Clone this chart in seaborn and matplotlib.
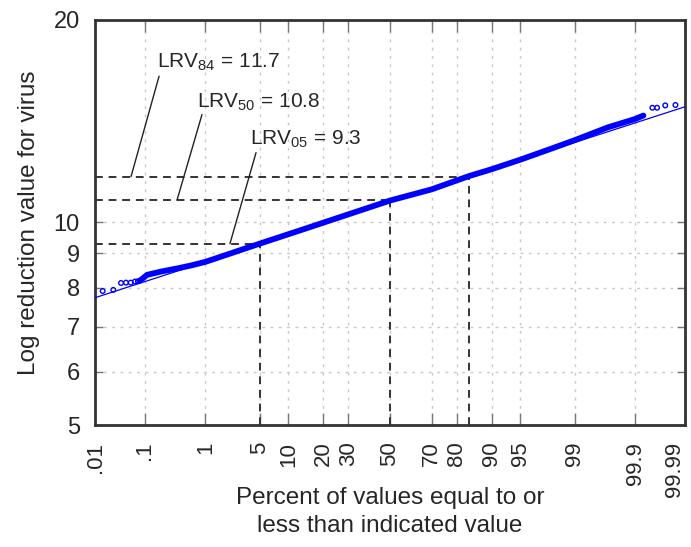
import numpy as np
import pandas as pd
import matplotlib
matplotlib.use("Agg")
import matplotlib.pyplot as plt
import seaborn as sns
from statistics import NormalDist

# --- Data (percent, LRV) ---

# dense band of simulated values
curve_pct = [0.08, 0.11, 0.19, 0.4, 0.6, 1, 5, 13, 50, 70, 84, 90, 95, 98, 99, 99.7, 99.9, 99.93]
curve_lrv = [8.19, 8.36, 8.45, 8.56, 8.63, 8.74, 9.3, 9.74, 10.78, 11.2, 11.72, 12.0, 12.4, 12.9, 13.25, 13.85, 14.25, 14.42]

# isolated points in the tails
tail_pct = [0.0146, 0.0243, 0.0348, 0.0437, 0.054, 0.065, 0.074, 99.953, 99.962, 99.974, 99.984]
tail_lrv = [7.91, 7.94, 8.13, 8.14, 8.14, 8.17, 8.18, 14.81, 14.81, 14.93, 14.95]

# fitted lognormal line (ends of the plot)
fit_pct = [0.01, 99.99]
fit_lrv = [7.73, 14.86]

# percentile markers
ref_pct = [84, 50, 5]
ref_lrv = [11.7, 10.8, 9.3]
ref_names = ["84", "50", "05"]

x_ticks = [0.01, 0.1, 1, 5, 10, 20, 30, 50, 70, 80, 90, 95, 99, 99.9, 99.99]
x_labels = [".01", ".1", "1", "5", "10", "20", "30", "50", "70", "80", "90", "95", "99", "99.9", "99.99"]
y_ticks = [5, 6, 7, 8, 9, 10, 20]

# --- Probability scale ---

nd = NormalDist()
_ppf = np.vectorize(nd.inv_cdf, otypes=[float])
_cdf = np.vectorize(nd.cdf, otypes=[float])


def probit(p):
    p = np.clip(np.asarray(p, dtype=float) / 100.0, 1e-12, 1 - 1e-12)
    return _ppf(p)


def inv_probit(z):
    return _cdf(np.asarray(z, dtype=float)) * 100.0


# --- Plot ---

sns.set_style("white")
plt.rcParams["font.family"] = ["Liberation Sans", "DejaVu Sans"]
plt.rcParams["mathtext.default"] = "regular"

fig = plt.figure(figsize=(6.91, 5.47), dpi=100)
ax = fig.add_axes([0.1375, 0.223, 0.8538, 0.7405])

ax.set_xscale("function", functions=(probit, inv_probit))
ax.set_yscale("log")
ax.set_xlim(0.01, 99.99)
ax.set_ylim(5, 20)

blue = "#0000ff"
curve = pd.DataFrame({"pct": curve_pct, "lrv": curve_lrv})
tails = pd.DataFrame({"pct": tail_pct, "lrv": tail_lrv})
fit = pd.DataFrame({"pct": fit_pct, "lrv": fit_lrv})

sns.lineplot(data=fit, x="pct", y="lrv", color=blue, lw=0.9, sort=False, estimator=None, ax=ax, zorder=3)
sns.lineplot(data=curve, x="pct", y="lrv", color=blue, lw=4.2, sort=False, estimator=None, ax=ax, zorder=4)
sns.scatterplot(data=tails, x="pct", y="lrv", marker="o", s=11, facecolor="none", edgecolor=blue, linewidth=1.0, ax=ax, zorder=4)

# dashed guides to the percentiles
for p, v in zip(ref_pct, ref_lrv):
    ax.plot([0.01, p], [v, v], color="#333333", lw=1.4, ls=(0, (4, 3)), zorder=2)
    ax.plot([p, p], [5, v], color="#333333", lw=1.4, ls=(0, (4, 3)), zorder=2)

# labels with leader lines
text_pos = [(0.166, 17.3), (0.749, 15.08), (3.88, 13.29)]
lead_start = [(0.18, 16.5), (0.889, 14.47), (4.56, 12.7)]
lead_end_pct = [0.0547, 0.363, 2.18]
for (tx, ty), (sx, sy), ex, v, n in zip(text_pos, lead_start, lead_end_pct, ref_lrv, ref_names):
    ax.text(tx, ty, "LRV$_{" + n + "}$ = " + f"{v}", fontsize=15, ha="left", va="center")
    ax.annotate("", xy=(ex, v), xytext=(sx, sy),
                arrowprops=dict(arrowstyle="-", lw=1.0, color="#222222", shrinkA=0, shrinkB=0))

ax.set_xticks(x_ticks)
ax.set_xticklabels(x_labels, rotation=90, fontsize=16)
ax.get_xticklabels()[-1].set_horizontalalignment("right")  # keep 99.99 inside the figure
ax.xaxis.set_minor_locator(matplotlib.ticker.NullLocator())
ax.set_yticks(y_ticks)
ax.set_yticklabels([str(t) for t in y_ticks], fontsize=17)
ax.yaxis.set_minor_locator(matplotlib.ticker.NullLocator())

ax.tick_params(axis="x", direction="in", length=8.5, width=1, color="#777777",
               top=True, bottom=True, pad=12)
ax.tick_params(axis="y", direction="in", length=6, width=1, color="#777777",
               left=True, right=True, pad=11)

ax.grid(True, which="major", color="#c8c8c8", lw=1.0, ls=(0, (2, 4)))
ax.set_axisbelow(True)
for sp in ax.spines.values():
    sp.set_color("#333333")
    sp.set_linewidth(2)

ax.set_xlabel("Percent of values equal to or\nless than indicated value", fontsize=17.5, linespacing=1.35)
ax.xaxis.set_label_coords(0.5, -0.152)
ax.set_ylabel("Log reduction value for virus", fontsize=17.5, labelpad=10)

fig.savefig("out.png", dpi=100)
plt.close(fig)
